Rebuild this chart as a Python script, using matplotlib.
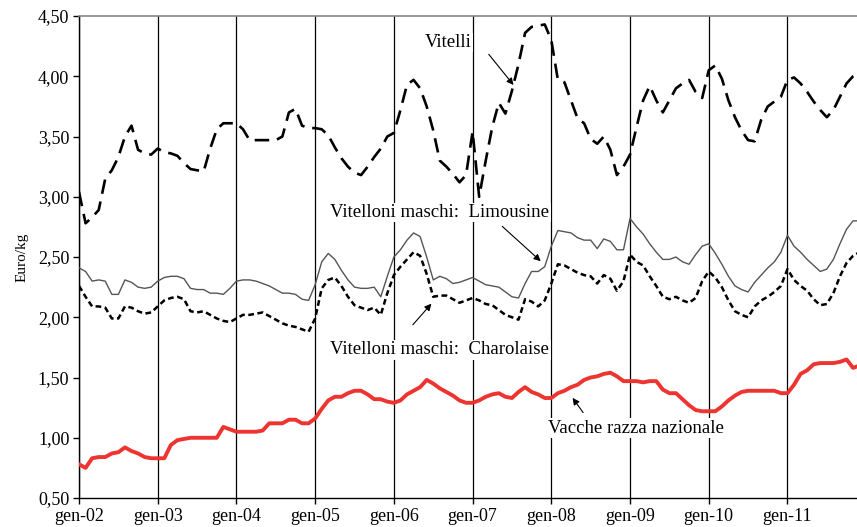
import numpy as np
import matplotlib.pyplot as plt

# prezzi mensili gen-02 .. dic-11 (euro/kg)
vitelli = [3.04, 2.78, 2.83, 2.89, 3.15, 3.22, 3.33, 3.50, 3.59, 3.39,
           3.36, 3.35, 3.40, 3.37, 3.36, 3.34, 3.28, 3.23, 3.22, 3.21,
           3.40, 3.56, 3.61, 3.61, 3.61, 3.56, 3.47, 3.47, 3.47, 3.47,
           3.47, 3.50, 3.70, 3.73, 3.59, 3.57, 3.57, 3.56, 3.51, 3.41,
           3.32, 3.25, 3.20, 3.18, 3.25, 3.33, 3.40, 3.50, 3.53, 3.72,
           3.93, 3.97, 3.90, 3.75, 3.55, 3.30, 3.25, 3.19, 3.12, 3.18,
           3.54, 3.00, 3.30, 3.58, 3.78, 3.69, 3.88, 4.10, 4.36, 4.41,
           4.42, 4.43, 4.30, 3.97, 3.95, 3.80, 3.65, 3.61, 3.48, 3.44,
           3.50, 3.39, 3.18, 3.25, 3.35, 3.58, 3.80, 3.92, 3.80, 3.70,
           3.80, 3.90, 3.94, 3.97, 3.87, 3.82, 4.05, 4.09, 3.98, 3.80,
           3.66, 3.55, 3.47, 3.46, 3.64, 3.75, 3.79, 3.83, 3.97, 3.99,
           3.94, 3.87, 3.79, 3.72, 3.66, 3.72, 3.83, 3.94, 4.00, 4.03]

limousine = [2.41, 2.38, 2.30, 2.31, 2.30, 2.19, 2.19, 2.31, 2.29, 2.25,
             2.24, 2.25, 2.30, 2.33, 2.34, 2.34, 2.32, 2.24, 2.23, 2.23,
             2.20, 2.20, 2.19, 2.24, 2.30, 2.31, 2.31, 2.30, 2.28, 2.26,
             2.23, 2.20, 2.20, 2.19, 2.15, 2.14, 2.27, 2.46, 2.53, 2.48,
             2.39, 2.31, 2.25, 2.24, 2.24, 2.25, 2.17, 2.34, 2.50, 2.56,
             2.64, 2.70, 2.67, 2.50, 2.31, 2.34, 2.32, 2.28, 2.29, 2.31,
             2.33, 2.30, 2.27, 2.26, 2.25, 2.21, 2.17, 2.16, 2.28, 2.38,
             2.38, 2.42, 2.59, 2.72, 2.71, 2.70, 2.66, 2.64, 2.64, 2.57,
             2.65, 2.63, 2.56, 2.56, 2.82, 2.75, 2.69, 2.61, 2.54, 2.48,
             2.48, 2.50, 2.46, 2.44, 2.52, 2.59, 2.61, 2.53, 2.44, 2.34,
             2.26, 2.23, 2.21, 2.29, 2.35, 2.41, 2.46, 2.54, 2.68, 2.59,
             2.54, 2.48, 2.43, 2.38, 2.40, 2.48, 2.61, 2.73, 2.80, 2.80]

charolaise = [2.26, 2.17, 2.09, 2.09, 2.08, 1.99, 1.99, 2.09, 2.08, 2.05,
              2.03, 2.04, 2.09, 2.14, 2.16, 2.17, 2.15, 2.05, 2.04, 2.05,
              2.02, 1.99, 1.97, 1.96, 1.99, 2.02, 2.02, 2.03, 2.04, 2.01,
              1.98, 1.95, 1.93, 1.92, 1.90, 1.88, 1.99, 2.24, 2.31, 2.33,
              2.26, 2.17, 2.10, 2.08, 2.06, 2.08, 2.02, 2.20, 2.35, 2.42,
              2.48, 2.54, 2.51, 2.36, 2.17, 2.18, 2.18, 2.15, 2.12, 2.14,
              2.16, 2.14, 2.11, 2.10, 2.06, 2.02, 2.00, 1.98, 2.15, 2.13,
              2.09, 2.14, 2.28, 2.44, 2.43, 2.40, 2.37, 2.35, 2.34, 2.28,
              2.35, 2.32, 2.22, 2.30, 2.52, 2.46, 2.43, 2.34, 2.26, 2.17,
              2.15, 2.17, 2.14, 2.12, 2.16, 2.30, 2.38, 2.33, 2.25, 2.14,
              2.05, 2.02, 2.00, 2.09, 2.14, 2.17, 2.21, 2.26, 2.40, 2.31,
              2.26, 2.22, 2.15, 2.10, 2.11, 2.20, 2.34, 2.45, 2.51, 2.54]

vacche = [0.78, 0.75, 0.83, 0.84, 0.84, 0.87, 0.88, 0.92, 0.89, 0.87,
          0.84, 0.83, 0.83, 0.83, 0.94, 0.98, 0.99, 1.00, 1.00, 1.00,
          1.00, 1.00, 1.09, 1.07, 1.05, 1.05, 1.05, 1.05, 1.06, 1.12,
          1.12, 1.12, 1.15, 1.15, 1.12, 1.12, 1.16, 1.24, 1.31, 1.34,
          1.34, 1.37, 1.39, 1.39, 1.36, 1.32, 1.32, 1.30, 1.29, 1.31,
          1.36, 1.39, 1.42, 1.48, 1.45, 1.41, 1.38, 1.35, 1.31, 1.29,
          1.29, 1.31, 1.34, 1.36, 1.37, 1.34, 1.33, 1.38, 1.42, 1.38,
          1.36, 1.33, 1.33, 1.37, 1.39, 1.42, 1.44, 1.48, 1.50, 1.51,
          1.53, 1.54, 1.51, 1.47, 1.47, 1.47, 1.46, 1.47, 1.47, 1.40,
          1.37, 1.37, 1.32, 1.27, 1.23, 1.22, 1.22, 1.22, 1.26, 1.31,
          1.35, 1.38, 1.39, 1.39, 1.39, 1.39, 1.39, 1.37, 1.37, 1.44,
          1.53, 1.56, 1.61, 1.62, 1.62, 1.62, 1.63, 1.65, 1.58, 1.60]

anni = ['gen-02', 'gen-03', 'gen-04', 'gen-05', 'gen-06',
        'gen-07', 'gen-08', 'gen-09', 'gen-10', 'gen-11']

plt.rcParams['font.family'] = ['Liberation Serif', 'DejaVu Serif']

mesi = np.arange(len(vitelli))

fig = plt.figure(figsize=(8.57, 5.27), dpi=100)
ax = fig.add_axes([0.0922, 0.055, 0.9078, 0.9146])

# griglia verticale annuale
for k in range(len(anni)):
    ax.axvline(12 * k, color='black', lw=0.9, zorder=1)

ax.plot(mesi, limousine, '-', color='#555555', lw=1.0, zorder=3)
ax.plot(mesi, charolaise, color='black', lw=1.8, dashes=(2.3, 1.4), zorder=3)
ax.plot(mesi, vitelli, color='black', lw=1.9, dashes=(5.5, 3.0), zorder=3)
ax.plot(mesi, vacche, '-', color='#ee3430', lw=2.8, zorder=3)

ax.set_xlim(0, 118.6)
ax.set_ylim(0.5, 4.5)
ax.set_xticks(np.arange(len(anni)) * 12)
ax.set_xticklabels(anni, fontsize=13)
yt = np.arange(0.5, 4.51, 0.5)
ax.set_yticks(yt)
ax.set_yticklabels(['{:.2f}'.format(v).replace('.', ',') for v in yt], fontsize=13)
ax.tick_params(axis='both', direction='out', length=4, width=1, pad=3)
ax.set_ylabel('Euro/kg', fontsize=11, labelpad=7)

ax.spines['top'].set_color('#888888')
ax.spines['top'].set_linewidth(1.2)
ax.spines['right'].set_visible(False)
ax.spines['left'].set_linewidth(1.0)
ax.spines['bottom'].set_linewidth(1.0)

box = dict(facecolor='white', edgecolor='none', pad=1)
arr = dict(arrowstyle='-|>', color='black', lw=0.8, mutation_scale=10)

ax.annotate('', xy=(66.5, 3.91), xytext=(62.2, 4.20), arrowprops=arr, zorder=5)
ax.text(56.3, 4.28, 'Vitelli', fontsize=13.5, ha='center', va='center', bbox=box, zorder=4)

ax.annotate('', xy=(70.7, 2.45), xytext=(64.2, 2.77), arrowprops=arr, zorder=5)
ax.text(55.0, 2.87, 'Vitelloni maschi:  Limousine', fontsize=13.5, ha='center', va='center',
        bbox=box, zorder=4)

ax.annotate('', xy=(54.0, 2.13), xytext=(50.6, 1.92), arrowprops=arr, zorder=5)
ax.text(55.0, 1.73, 'Vitelloni maschi:  Charolaise', fontsize=13.5, ha='center', va='center',
        bbox=box, zorder=4)

ax.annotate('', xy=(75.0, 1.35), xytext=(77.1, 1.19), arrowprops=arr, zorder=5)
ax.text(71.5, 1.08, 'Vacche razza nazionale', fontsize=13.5, ha='left', va='center',
        bbox=box, zorder=4)

plt.savefig('out.png', dpi=100)
